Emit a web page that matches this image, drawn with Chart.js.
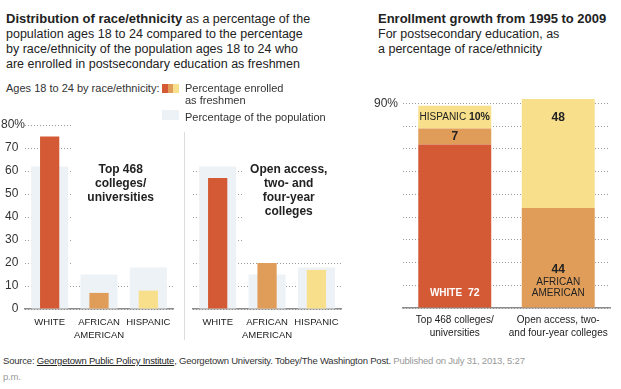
<!DOCTYPE html>
<html><head><meta charset="utf-8">
<script src="https://cdn.jsdelivr.net/npm/chart.js@4.4.1/dist/chart.umd.min.js"></script>
<style>
body{margin:0;width:621px;height:389px;background:#fff;font-family:"Liberation Sans",Arial,sans-serif;color:#222;position:relative;overflow:hidden}
.abs{position:absolute;white-space:nowrap;z-index:2}
.title{font-size:12.5px;line-height:15px}
.title b{font-size:13px}
.leg{font-size:11px;line-height:12px;color:#333}
.src{font-size:9.5px;line-height:16px;color:#333;letter-spacing:-0.2px}
.src a{color:#222;text-decoration:underline}
.src .g{color:#999}
canvas{position:absolute;z-index:1}
</style></head><body>
<div class="abs title" style="left:6px;top:11px"><b>Distribution of race/ethnicity</b> as a percentage of the<br>population ages 18 to 24 compared to the percentage<br>by race/ethnicity of the population ages 18 to 24 who<br>are enrolled in postsecondary education as freshmen</div>
<div class="abs title" style="left:378px;top:11px"><b>Enrollment growth from 1995 to 2009</b><br>For postsecondary education, as<br>a percentage of race/ethnicity</div>

<div class="abs leg" style="left:6px;top:82px">Ages 18 to 24 by race/ethnicity:</div>
<div class="abs" style="left:162px;top:84px;width:6px;height:9px;background:#d35a35"></div>
<div class="abs" style="left:168px;top:84px;width:5px;height:9px;background:#e09d59"></div>
<div class="abs" style="left:173px;top:84px;width:6px;height:9px;background:#f8df8c"></div>
<div class="abs leg" style="left:185px;top:82px">Percentage enrolled<br>as freshmen</div>
<div class="abs" style="left:162px;top:110px;width:17px;height:10px;background:#edf2f6"></div>
<div class="abs leg" style="left:185px;top:111px">Percentage of the population</div>

<div class="abs" style="left:184px;top:132px;width:1px;height:208px;background:#dcdcdc"></div>

<canvas id="p1" width="180" height="240" style="left:0;top:110px;width:180px;height:240px"></canvas>
<canvas id="p2" width="160" height="240" style="left:186px;top:110px;width:160px;height:240px"></canvas>
<canvas id="g" width="251" height="270" style="left:370px;top:80px;width:251px;height:270px"></canvas>

<div class="abs src" style="left:3px;top:353px">Source: <a>Georgetown Public Policy Institute</a>, Georgetown University. Tobey/The Washington Post. <span class="g">Published on July 31, 2013, 5:27<br>p.m.</span></div>

<script>
// ---- data ----
const raceLabels = ['WHITE', ['AFRICAN', 'AMERICAN'], 'HISPANIC'];
const populationShare = [62, 15, 18];
const enrolledTop468 = [75, 7, 8];
const enrolledOpenAccess = [57, 20, 17];
const panelTickValues = [0, 10, 20, 30, 40, 50, 60, 70, 80];

const growthCategories = [['Top 468 colleges/', 'universities'], ['Open access, two-', 'and four-year colleges']];
const growthWhite = [72, 0];
const growthAfricanAmerican = [7, 44];
const growthHispanic = [10, 48];
const growthTickValues = [0, 10, 20, 30, 40, 50, 60, 70, 80, 90];

// ---- styles ----
const RED = '#d35a35', ORANGE = '#e09d59', YELLOW = '#f8df8c', PALE = '#edf2f6';
const FONT = '"Liberation Sans", Arial, sans-serif';
Chart.defaults.font.family = FONT;

const panelNote = {
  id: 'panelNote',
  beforeDatasetsDraw(chart, args, o) {
    const {ctx, chartArea: a, scales: {x, y}} = chart;
    ctx.save();
    ctx.fillStyle = '#fff';
    o.masks.forEach(m => {
      const x0 = a.left + m[0], x1 = a.right + 3;
      const y0 = y.getPixelForValue(m[1]), y1 = y.getPixelForValue(m[2]);
      ctx.fillRect(x0, y0, x1 - x0, y1 - y0);
    });
    ctx.fillStyle = '#222';
    ctx.font = 'bold 12px ' + FONT;
    ctx.textAlign = 'center';
    ctx.textBaseline = 'middle';
    const cx = x.getPixelForValue(1.5) - 3;
    const cy = y.getPixelForValue(60) - 1;
    o.lines.forEach((l, i) => ctx.fillText(l, cx, cy + i * 14));
    ctx.restore();
  }
};

function makePanel(id, enrolled, showTicks, lines, masks) {
  return new Chart(document.getElementById(id), {
    type: 'bar',
    data: {
      labels: raceLabels,
      datasets: [
        {label: 'Percentage enrolled as freshmen', data: enrolled, backgroundColor: [RED, ORANGE, YELLOW],
         barPercentage: 0.39, categoryPercentage: 1, grouped: false, order: 1},
        {label: 'Percentage of the population', data: populationShare, backgroundColor: PALE,
         barPercentage: 0.75, categoryPercentage: 1, grouped: false, order: 2}
      ]
    },
    options: {
      responsive: false, animation: false, devicePixelRatio: 1,
      layout: {padding: {top: 15, right: showTicks ? 7 : 3, left: 0, bottom: 0}},
      plugins: {legend: {display: false}, tooltip: {enabled: false}, panelNote: {lines, masks}},
      scales: {
        x: {
          grid: {display: false, drawTicks: false},
          border: {display: true, color: '#8c8c8c', width: 1.5},
          ticks: {color: '#222', font: {size: 9.5, lineHeight: 1.35}, padding: 7, maxRotation: 0, autoSkip: false},
          afterFit: s => { s.height = 41; }
        },
        y: {
          min: 0, max: 80,
          afterBuildTicks: s => { s.ticks = panelTickValues.map(v => ({value: v})); },
          grid: {color: '#9a9a9a', drawTicks: false, lineWidth: 1},
          border: {display: false, dash: [1, 2]},
          ticks: {display: showTicks, color: '#333', font: {size: 12}, padding: 0,
                  callback: v => v === 80 ? '80%' : v + '  '},
          afterFit: s => { s.width = showTicks ? 25 : 7; }
        }
      }
    },
    plugins: [panelNote]
  });
}

makePanel('p1', enrolledTop468, true, ['Top 468', 'colleges/', 'universities'], [[48, 81.5, 16]]);
makePanel('p2', enrolledOpenAccess, false, ['Open access,', 'two- and', 'four-year', 'colleges'], [[-2, 81.5, 65], [50, 65, 22]]);

// labels inside the stacked bars
function segmentRuns(ds, j, v) {
  if (ds === 0) return {color: '#fff', anchor: 'bottom', lines: [[{t: 'WHITE', b: 1, s: 10}, {t: '  ' + v, b: 1, s: 10.5}]]};
  if (ds === 1 && j === 0) return {color: '#222', anchor: 'center', lines: [[{t: String(v), b: 1, s: 12}]]};
  if (ds === 1) return {color: '#222', anchor: 'bottom', lines: [[{t: String(v), b: 1, s: 12}], [{t: 'AFRICAN', s: 10}], [{t: 'AMERICAN', s: 10}]]};
  if (ds === 2 && j === 0) return {color: '#222', anchor: 'center', lines: [[{t: 'HISPANIC ', s: 10}, {t: v + '%', b: 1, s: 10.5}]]};
  return {color: '#222', anchor: 'top', lines: [[{t: String(v), b: 1, s: 12}]]};
}
const growthLabels = {
  id: 'growthLabels',
  afterDatasetsDraw(chart) {
    const ctx = chart.ctx;
    ctx.save();
    ctx.textBaseline = 'middle';
    ctx.textAlign = 'left';
    chart.data.datasets.forEach((ds, i) => {
      const meta = chart.getDatasetMeta(i);
      meta.data.forEach((bar, j) => {
        const v = ds.data[j];
        if (!v) return;
        const spec = segmentRuns(i, j, v);
        const n = spec.lines.length;
        let ys = [];
        if (spec.anchor === 'bottom') {
          let yy = bar.base - 14;
          for (let k = n - 1; k >= 0; k--) { ys[k] = yy; yy -= (k === 1 ? 13 : 11); }
        } else if (spec.anchor === 'top') {
          ys = [bar.y + 19];
        } else {
          ys = [(bar.y + bar.base) / 2];
        }
        ctx.fillStyle = spec.color;
        spec.lines.forEach((runs, k) => {
          let w = 0;
          runs.forEach(r => { ctx.font = (r.b ? 'bold ' : '') + r.s + 'px ' + FONT; w += ctx.measureText(r.t).width; });
          let xx = bar.x - w / 2;
          runs.forEach(r => {
            ctx.font = (r.b ? 'bold ' : '') + r.s + 'px ' + FONT;
            ctx.fillText(r.t, xx, ys[k]);
            xx += ctx.measureText(r.t).width;
          });
        });
      });
    });
    ctx.restore();
  }
};

new Chart(document.getElementById('g'), {
  type: 'bar',
  data: {
    labels: growthCategories,
    datasets: [
      {label: 'White', data: growthWhite, backgroundColor: RED},
      {label: 'African American', data: growthAfricanAmerican, backgroundColor: ORANGE},
      {label: 'Hispanic', data: growthHispanic, backgroundColor: YELLOW}
    ]
  },
  options: {
    responsive: false, animation: false, devicePixelRatio: 1,
    datasets: {bar: {barPercentage: 0.705, categoryPercentage: 1}},
    layout: {padding: {top: 0, right: 11, left: 0, bottom: 0}},
    plugins: {legend: {display: false}, tooltip: {enabled: false}},
    scales: {
      x: {
        stacked: true,
        grid: {display: false, drawTicks: false},
        border: {display: true, color: '#8c8c8c', width: 1.5},
        ticks: {color: '#222', font: {size: 10, lineHeight: 1.3}, padding: 6, maxRotation: 0, autoSkip: false},
        afterFit: s => { s.height = 42; }
      },
      y: {
        stacked: true, min: 0, max: 95,
        afterBuildTicks: s => { s.ticks = growthTickValues.map(v => ({value: v})); },
        grid: {color: '#9a9a9a', drawTicks: false, lineWidth: 1},
        border: {display: false, dash: [1, 2]},
        ticks: {color: '#333', font: {size: 12}, padding: 5, callback: v => v === 90 ? '90%' : ''},
        afterFit: s => { s.width = 33; }
      }
    }
  },
  plugins: [growthLabels]
});
</script>
</body></html>
